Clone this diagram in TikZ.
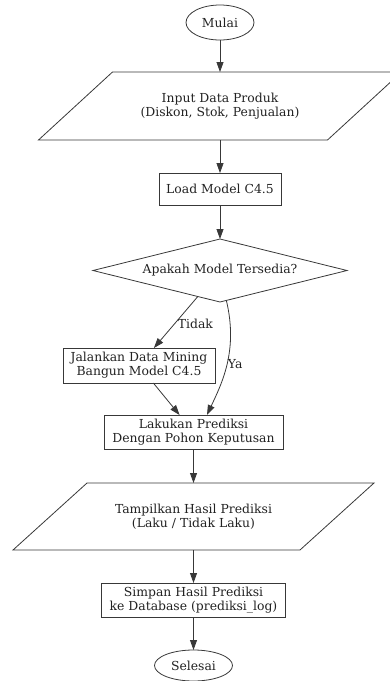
\documentclass[tikz,border=0pt]{standalone}
\usepackage{fontspec}
\setmainfont{DejaVu Serif}
\usetikzlibrary{arrows.meta,positioning,shapes.geometric,calc}
\definecolor{Ink}{HTML}{222222}
\definecolor{Edge}{HTML}{383838}
% slanted input/output outline round a plain node
\newcommand{\slantbox}[1]{%
  \draw[draw=Edge,line width=0.8pt] ([xshift=37pt]#1.north west) -- ([xshift=37pt]#1.north east)
    -- ([xshift=-37pt]#1.south east) -- ([xshift=-37pt]#1.south west) -- cycle;}

\begin{document}
\begin{tikzpicture}[x=1pt,y=1pt,font=\fontsize{12.4}{14}\selectfont,
    every node/.style={outer sep=0pt},
    term/.style={draw=Edge,ellipse,inner sep=0pt,minimum width=68pt,
      minimum height=35pt,text=Ink,line width=0.8pt},
    io/.style={rectangle,minimum width=289pt,minimum height=68pt,
      inner sep=0pt,align=center,text=Ink},
    proc/.style={draw=Edge,rectangle,inner sep=0pt,minimum height=34pt,
      align=center,text=Ink,line width=0.8pt},
    cond/.style={draw=Edge,diamond,aspect=4,inner sep=0pt,minimum width=254pt,
      minimum height=63pt,text=Ink,line width=0.8pt},
    flow/.style={->,draw=Edge,line width=0.8pt},
    >={Triangle[length=10pt,width=7pt]}]
  \useasboundingbox (0,0) rectangle (390,-681);
  \node[term] (mulai) at (220,-22.5) {Mulai};
  \node[io, below=32pt of mulai] (input) {Input Data Produk\\(Diskon, Stok, Penjualan)};
  \node[proc, minimum width=122pt, minimum height=32pt, below=33pt of input] (load) {Load Model C4.5};
  \node[cond, below=34pt of load] (cek) {Apakah Model Tersedia?};
  \node[proc, minimum width=152pt, minimum height=35pt, below=46pt of cek, xshift=-81pt] (mining)
    {Jalankan Data Mining\\Bangun Model C4.5};
  \node[proc, minimum width=179pt, below=32pt of mining, xshift=54.5pt] (prediksi)
    {Lakukan Prediksi\\Dengan Pohon Keputusan};
  \node[io, minimum width=287pt, minimum height=67pt, below=34pt of prediksi] (tampil)
    {Tampilkan Hasil Prediksi\\(Laku / Tidak Laku)};
  \node[proc, minimum width=184pt, below=33pt of tampil] (simpan)
    {Simpan Hasil Prediksi\\ke Database (prediksi\_log)};
  \node[term, minimum width=78pt, minimum height=31pt, below=33pt of simpan] (selesai) {Selesai};
  \slantbox{input}
  \slantbox{tampil}
  \draw[flow] (mulai) -- (input);
  \draw[flow] (input) -- (load);
  \draw[flow] (load) -- (cek);
  \draw[flow] (cek) -- node[right, inner sep=2pt, yshift=-2pt, text=Ink]{Tidak} (mining);
  \draw[flow] ($(cek.south)!0.05!(cek.east)$) .. controls +(12,-50) and +(15,32) ..
    node[pos=0.5, right, inner sep=1pt, text=Ink]{Ya} ([xshift=13.5pt]prediksi.north);
  \draw[flow] (mining) -- (prediksi);
  \draw[flow] (prediksi) -- (tampil);
  \draw[flow] (tampil) -- (simpan);
  \draw[flow] (simpan) -- (selesai);
\end{tikzpicture}
\end{document}
